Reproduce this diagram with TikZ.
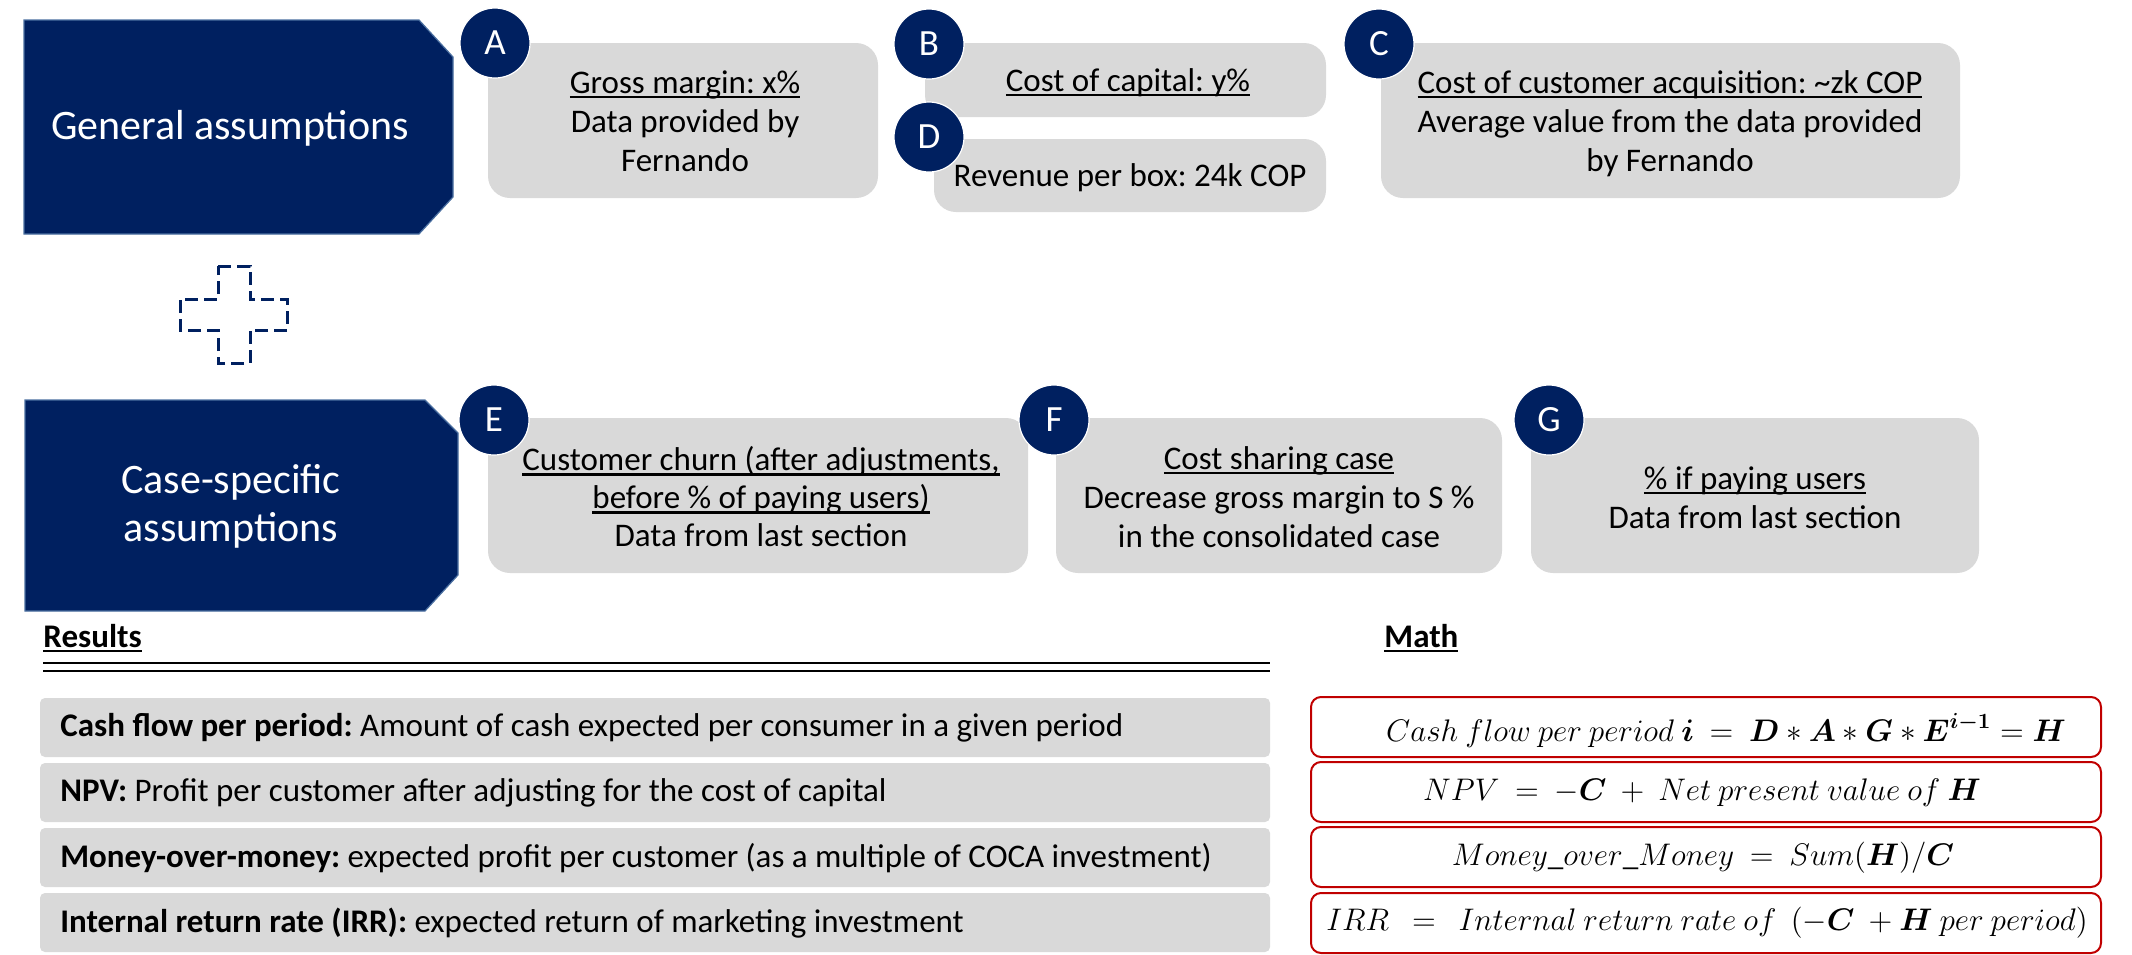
\RequirePackage{fix-cm}
\documentclass[tikz,border=0pt]{standalone}
\usepackage{fontspec}
\usepackage{amsmath}
\setmainfont{Carlito}
\frenchspacing
\definecolor{navy}{HTML}{002060}
\definecolor{pillgray}{HTML}{D9D9D9}
\definecolor{mathred}{HTML}{C00000}
\definecolor{edgeblue}{HTML}{4A6FA0}
\newsavebox\ulbox
\newcommand\myul[1]{\leavevmode\sbox\ulbox{#1}\rlap{\rule[-0.14em]{\wd\ulbox}{0.065em}}\usebox\ulbox}
\tikzset{
  pill/.style={fill=pillgray, rounded corners=11pt, inner sep=0pt, draw=none},
  pilltext/.style={align=center, inner sep=0pt, font=\fontsize{16.5}{19.5}\selectfont},
  badge/.style={circle, fill=navy, draw=white, line width=0.6pt, minimum size=35pt, inner sep=0pt, text=white, font=\fontsize{18.5}{20}\selectfont},
  headshape/.style={fill=navy, draw=edgeblue, line width=0.6pt},
  headtext/.style={text=white, align=center, inner sep=0pt, font=\fontsize{21}{24}\selectfont},
  resbox/.style={fill=pillgray, rounded corners=2.5pt, minimum width=615pt, minimum height=29.5pt, inner sep=0pt},
  restext/.style={anchor=west, inner sep=0pt, font=\fontsize{16.5}{19.5}\selectfont},
  mathbox/.style={draw=mathred, line width=1pt, rounded corners=5pt, minimum width=395pt, minimum height=30pt, inner sep=0pt},
  mathtext/.style={inner sep=0pt, font=\fontsize{15.6}{18}\selectfont},
  sectitle/.style={anchor=west, inner sep=0pt, font=\bfseries\fontsize{16.5}{19.5}\selectfont},
  plusline/.style={draw=navy, line width=1.5pt, dash pattern=on 6.5pt off 3pt}
}
\begin{document}
\begin{tikzpicture}[x=0.5pt,y=-0.5pt]
\useasboundingbox (0,0) rectangle (2132,954);
\fill[white] (0,0) rectangle (2132,954);

% header shapes
\path[headshape] (24,20) -- (419,20) -- (453,57) -- (453,197) -- (419,234) -- (24,234) -- cycle;
\node[headtext] (gen) at (230,128) {General assumptions};
\path[headshape] (25,400) -- (425,400) -- (458,433) -- (458,575) -- (425,611) -- (25,611) -- cycle;
\node[headtext] (case) at (231,506) {Case-specific\\assumptions};

% plus
\draw[plusline] (218,266) -- (250,266) -- (250,299) -- (287,299) -- (287,330) -- (250,330) -- (250,363) -- (218,363) -- (218,330) -- (180,330) -- (180,299) -- (218,299) -- cycle;

% pills general
\node[pill, minimum width=195pt, minimum height=77.5pt] (pA) at (683,120.5) {};
\node[pill, minimum width=200.5pt, minimum height=37pt] (pB) at (1125.5,80) {};
\node[pill, minimum width=196pt, minimum height=36.5pt] (pD) at (1130,175.5) {};
\node[pill, minimum width=289.5pt, minimum height=77.5pt] (pC) at (1670.5,120.5) {};
\node[pilltext] (tA) at (685,121) {\myul{Gross margin: x\%}\\Data provided by\\Fernando};
\node[pilltext] (tB) at (1128,83) {\myul{Cost of capital: y\%}};
\node[pilltext] (tD) at (1130,178) {Revenue per box: 24k COP};
\node[pilltext] (tC) at (1670,124) {\myul{Cost of customer acquisition: \char"7E zk COP}\\Average value from the data provided\\by Fernando};

% pills case-specific
\node[pill, minimum width=270pt, minimum height=77.5pt] (pE) at (758,495.5) {};
\node[pill, minimum width=223pt, minimum height=77.5pt] (pF) at (1279,495.5) {};
\node[pill, minimum width=224pt, minimum height=77.5pt] (pG) at (1755,495.5) {};
\node[pilltext, font=\fontsize{16.5}{19}\selectfont] (tE) at (761,497) {\myul{Customer churn (after adjustments,}\\\myul{before \% of paying users)}\\Data from last section};
\node[pilltext] (tF) at (1279,497.5) {\myul{Cost sharing case}\\Decrease gross margin to S \%\\in the consolidated case};
\node[pilltext] (tG) at (1755,497.5) {\myul{\% if paying users}\\Data from last section};

% badges
\node[badge] (bA) at (495,43) {A};
\node[badge] (bB) at (929,44) {B};
\node[badge] (bD) at (929,137) {D};
\node[badge] (bC) at (1379,44) {C};
\node[badge] (bE) at (494,420) {E};
\node[badge] (bF) at (1054,420) {F};
\node[badge] (bG) at (1549,420) {G};

% section titles
\node[sectitle] (results) at (43,638) {\myul{Results}};
\node[sectitle] (mathtitle) at (1384,638) {\myul{Math}};
\draw[line width=1.2pt] (43,663) coordinate (dl1a) -- (1270,663) coordinate (dl1b);
\draw[line width=1pt] (43,671) coordinate (dl2a) -- (1270,671) coordinate (dl2b);

% results boxes
\node[resbox] (r1) at (655,727.5) {};
\node[resbox] (r2) at (655,792.5) {};
\node[resbox] (r3) at (655,857.5) {};
\node[resbox] (r4) at (655,922.5) {};
\node[restext] (rt1) at (60,728) {\textbf{Cash flow per period:} Amount of cash expected per consumer in a given period};
\node[restext] (rt2) at (60,793) {\textbf{NPV:} Profit per customer after adjusting for the cost of capital};
\node[restext] (rt3) at (60,858) {\textbf{Money-over-money:} expected profit per customer (as a multiple of COCA investment)};
\node[restext] (rt4) at (60,923) {\textbf{Internal return rate (IRR):} expected return of marketing investment};

% math boxes
\node[mathbox] (m1) at (1706,727) {};
\node[mathbox] (m2) at (1706,792) {};
\node[mathbox] (m3) at (1706,857) {};
\node[mathbox] (m4) at (1706,923) {};
\node[mathtext] (mt1) at (1726,730) {$Cash\ flow\ per\ period\ \boldsymbol{i}\ =\ \boldsymbol{D}*\boldsymbol{A}*\boldsymbol{G}*\boldsymbol{E}^{\boldsymbol{i-1}}=\boldsymbol{H}$};
\node[mathtext] (mt2) at (1702,793) {$NPV\ =\ -\boldsymbol{C}\ +\ Net\ present\ value\ of\ \boldsymbol{H}$};
\node[mathtext] (mt3) at (1703,858) {$Money\_over\_Money\ =\ Sum(\boldsymbol{H})/\boldsymbol{C}$};
\node[mathtext] (mt4) at (1707,923) {$IRR\ \ =\ \ Internal\ return\ rate\ of\ \ (-\boldsymbol{C}\ +\boldsymbol{H}\ per\ period)$};
\end{tikzpicture}
\end{document}
